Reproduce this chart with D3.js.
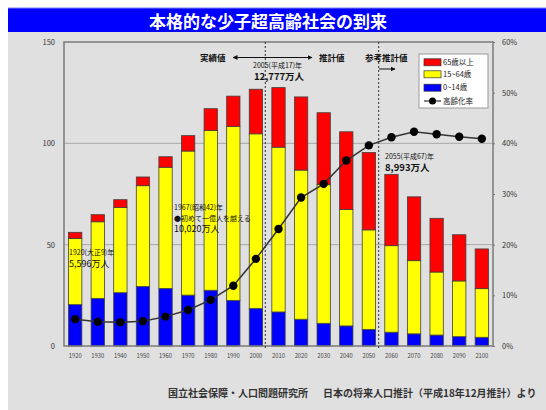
<!DOCTYPE html>
<html><head><meta charset="utf-8">
<script src="https://cdn.jsdelivr.net/npm/d3@7"></script>
<style>body{margin:0;background:#fff}svg{display:block}text{font-family:"Noto Sans CJK JP","Noto Sans",sans-serif}</style>
</head><body><svg id="c" width="546" height="410"></svg>
<script>
const years = [1920,1930,1940,1950,1960,1970,1980,1990,2000,2010,2020,2030,2040,2050,2060,2070,2080,2090,2100];
const age0_14 = [20.4,23.5,26.3,29.4,28.4,25.1,27.5,22.5,18.5,16.8,13.2,11.2,9.9,8.2,6.8,6.0,5.4,4.6,4.3];
const age15_64 = [32.7,37.8,42.1,49.7,59.8,71.1,78.8,85.9,86.2,81.3,73.6,68.4,57.5,49.1,42.7,36.1,31.1,27.5,24.0];
const age65 = [3.0,3.5,3.8,4.3,5.2,7.6,10.8,14.9,22.0,29.4,36.1,35.5,38.3,38.2,35.2,31.5,26.5,22.8,19.6];
const agingRate = [5.3,4.8,4.7,4.9,5.8,7.1,9.1,11.9,17.2,23.1,29.3,32.0,36.6,39.6,41.2,42.3,41.8,41.3,40.9];
const leftTicks = [0,50,100,150];
const rightTicks = [0,10,20,30,40,50,60];
const seriesNames = ["65歳以上","15~64歳","0~14歳","高齢化率"];
const seriesColors = ["#ff0000","#ffff00","#0000ff"];

const svg = d3.select("#c");
// background
svg.append("rect").attr("x",8).attr("y",8).attr("width",538).attr("height",402).attr("fill","#e0e0e0");
svg.append("rect").attr("x",8).attr("y",8).attr("width",538).attr("height",24).attr("fill","#0000ff");
svg.append("line").attr("x1",8).attr("x2",546).attr("y1",8).attr("y2",8).attr("stroke","#8080ff");
svg.append("text").attr("x",268).attr("y",28).attr("text-anchor","middle").attr("fill","#fff")
  .attr("font-size",17).attr("font-weight","bold").text("本格的な少子超高齢社会の到来");

const L=64,R=493,T=42,B=346;
const x = d3.scaleBand().domain(years).range([L,R]).paddingInner(0.41).paddingOuter(0.2);
const y = d3.scaleLinear().domain([0,150]).range([B,T]);
const y2 = d3.scaleLinear().domain([0,60]).range([B,T]);

// grid
svg.append("g").selectAll("line").data([50,100]).join("line")
  .attr("x1",L).attr("x2",R).attr("y1",d=>y(d)).attr("y2",d=>y(d)).attr("stroke","#a8a8a8").attr("stroke-width",1);

// stacked bars
const rows = years.map((yr,i)=>({year:yr,a:age0_14[i],b:age15_64[i],c:age65[i]}));
const stack = d3.stack().keys(["a","b","c"])(rows);
const colorByKey = {a:seriesColors[2],b:seriesColors[1],c:seriesColors[0]};
svg.append("g").selectAll("g").data(stack).join("g").attr("fill",d=>colorByKey[d.key])
  .selectAll("rect").data(d=>d).join("rect")
  .attr("x",d=>x(d.data.year)).attr("width",x.bandwidth())
  .attr("y",d=>y(d[1])).attr("height",d=>y(d[0])-y(d[1]))
  .attr("stroke","#404040").attr("stroke-width",0.8);

// frame
svg.append("rect").attr("x",L).attr("y",T).attr("width",R-L).attr("height",B-T)
  .attr("fill","none").attr("stroke","#7a7a7a").attr("stroke-width",1.5);

// dashed separators
const sepX = [x(2000)+x.bandwidth()+x.step()*0.12, x(2050)+x.bandwidth()+x.step()*0.14];
svg.append("g").selectAll("line").data(sepX).join("line")
  .attr("x1",d=>d).attr("x2",d=>d).attr("y1",T).attr("y2",B+4)
  .attr("stroke","#303030").attr("stroke-width",1).attr("stroke-dasharray","2,2");

// aging line
const line = d3.line().x((d,i)=>x(years[i])+x.bandwidth()/2).y(d=>y2(d));
svg.append("path").datum(agingRate).attr("d",line).attr("fill","none").attr("stroke","#333").attr("stroke-width",1.5);
svg.append("g").selectAll("circle").data(agingRate).join("circle")
  .attr("cx",(d,i)=>x(years[i])+x.bandwidth()/2).attr("cy",d=>y2(d)).attr("r",4.2).attr("fill","#000");

// axes
const ax = svg.append("g").attr("transform",`translate(${L-9},0)`)
  .call(d3.axisLeft(y).tickValues(leftTicks).tickSize(0).tickPadding(0));
ax.select(".domain").remove();
ax.selectAll("text").attr("font-size",7.5).attr("fill","#333");
const ar = svg.append("g").attr("transform",`translate(${R},0)`)
  .call(d3.axisRight(y2).tickValues(rightTicks).tickFormat(d=>d+"%").tickSize(2).tickPadding(7));
ar.select(".domain").remove();
ar.selectAll("line").attr("stroke","#777");
ar.selectAll("text").attr("font-size",7.5).attr("fill","#333");
const axb = svg.append("g").attr("transform",`translate(0,${B+8})`)
  .call(d3.axisBottom(x).tickSize(0).tickPadding(0));
axb.select(".domain").remove();
axb.selectAll("text").attr("font-size",5.8).attr("fill","#444");

// annotations
function t(xp,yp,s,fs,bold,anchor){
  svg.append("text").attr("x",xp).attr("y",yp).attr("font-size",fs).attr("font-weight",bold?"bold":"normal")
    .attr("text-anchor",anchor||"start").attr("fill","#111").text(s);
}
t(200,61,"実績値",8.5,true);
t(319,61,"推計値",8.5,true);
t(365,61,"参考推計値",8.5,true);
t(253,68,"2005(平成17)年",7,false);
t(254,80,"12,777万人",9.5,true);
t(385,159,"2055(平成67)年",7,false);
t(385,171,"8,993万人",9.5,true);
t(69,255,"1920(大正9)年",7,false);
t(69,267,"5,596万人",9,false);
t(174,210,"1967(昭和42)年",7,false);
t(174,221,"●初めて一億人を越える",7,false);
t(174,232,"10,020万人",9,false);

// arrows
const defs = svg.append("defs");
defs.append("marker").attr("id","ah").attr("viewBox","0 0 10 10").attr("refX",9).attr("refY",5)
  .attr("markerWidth",5).attr("markerHeight",5).attr("orient","auto-start-reverse")
  .append("path").attr("d","M0,0L10,5L0,10z").attr("fill","#111");
svg.append("line").attr("x1",233).attr("x2",312).attr("y1",57.5).attr("y2",57.5).attr("stroke","#111")
  .attr("stroke-width",1).attr("marker-start","url(#ah)").attr("marker-end","url(#ah)");
svg.append("line").attr("x1",379).attr("x2",395).attr("y1",69).attr("y2",69).attr("stroke","#111")
  .attr("stroke-width",1).attr("marker-end","url(#ah)");

// legend
const lg = svg.append("g");
lg.append("rect").attr("x",419).attr("y",54).attr("width",69).attr("height",54).attr("fill","#fff").attr("stroke","#999");
const ly = [62.3,74.3,87.7,101];
seriesNames.forEach((n,i)=>{
  if(i<3){
    lg.append("rect").attr("x",424).attr("y",ly[i]-3.5).attr("width",17).attr("height",7)
      .attr("fill",seriesColors[i]).attr("stroke","#333").attr("stroke-width",0.7);
  } else {
    lg.append("line").attr("x1",424).attr("x2",441).attr("y1",ly[i]).attr("y2",ly[i]).attr("stroke","#333").attr("stroke-width",1.2);
    lg.append("circle").attr("cx",432.5).attr("cy",ly[i]).attr("r",3.5).attr("fill","#000");
  }
  lg.append("text").attr("x",443).attr("y",ly[i]+2.6).attr("font-size",7.5).attr("fill","#222").text(n);
});

// footer
svg.append("text").attr("x",168).attr("y",397).attr("font-size",10).attr("font-weight","bold").attr("fill","#333").text("国立社会保障・人口問題研究所");
svg.append("text").attr("x",323).attr("y",397).attr("font-size",10).attr("font-weight","bold").attr("fill","#333").text("日本の将来人口推計（平成18年12月推計）より");
</script></body></html>
